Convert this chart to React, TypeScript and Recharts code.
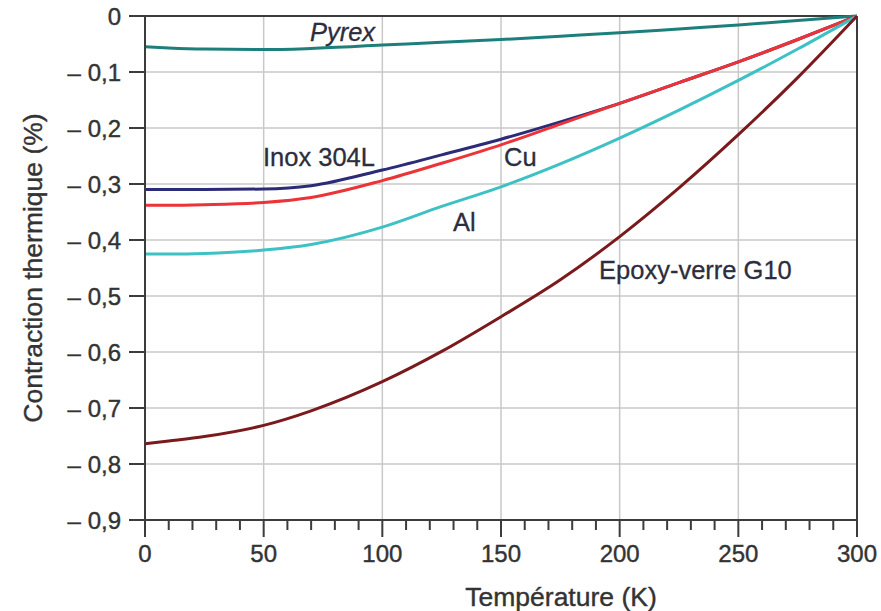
import { LineChart, Line, XAxis, YAxis, CartesianGrid, ReferenceLine, ReferenceDot } from 'recharts';

// Température (K)
const temps = [0, 10, 25, 50, 70, 100, 125, 150, 175, 200, 225, 250, 275, 300];

// Contraction thermique (%) relative to 300 K
const pyrex = [-0.055, -0.057, -0.059, -0.06, -0.058, -0.052, -0.047, -0.042, -0.036, -0.03, -0.023, -0.016, -0.008, 0];
const inox = [-0.31, -0.31, -0.31, -0.309, -0.303, -0.275, -0.248, -0.22, -0.189, -0.156, -0.119, -0.082, -0.042, 0];
const cu = [-0.338, -0.338, -0.337, -0.333, -0.324, -0.294, -0.263, -0.23, -0.193, -0.156, -0.119, -0.082, -0.042, 0];
const al = [-0.425, -0.425, -0.424, -0.418, -0.408, -0.377, -0.34, -0.305, -0.264, -0.218, -0.168, -0.115, -0.059, 0];
const epoxy = [-0.764, -0.759, -0.751, -0.731, -0.705, -0.653, -0.599, -0.537, -0.471, -0.394, -0.307, -0.212, -0.11, 0];

const xTicks = [0, 10, 20, 30, 40, 50, 60, 70, 80, 90, 100, 110, 120, 130, 140, 150, 160, 170, 180, 190, 200, 210, 220, 230, 240, 250, 260, 270, 280, 290, 300];
const xMajor = [0, 50, 100, 150, 200, 250, 300];
const yTicks = [0, -0.1, -0.2, -0.3, -0.4, -0.5, -0.6, -0.7, -0.8, -0.9];

// curve labels: [text, T, value]
const curveLabels: [string, number, number][] = [
  ['Pyrex', 69.5, -0.029],
  ['Inox 304L', 49.7, -0.252],
  ['Cu', 151.3, -0.252],
  ['Al', 129.8, -0.368],
  ['Epoxy-verre G10', 191.3, -0.454],
];

const data = temps.map((t, i) => ({
  t,
  pyrex: pyrex[i],
  inox: inox[i],
  cu: cu[i],
  al: al[i],
  epoxy: epoxy[i],
}));

const FONT = '"Liberation Sans", Arial, Helvetica, sans-serif';
const AXIS = '#3c3c3c';
const TEXT = '#333333';
const GRID = '#c8c8c8';

const fmtY = (v: number) => (v === 0 ? '0' : '– ' + Math.abs(v).toFixed(1).replace('.', ','));

// slightly heavier text strokes
const ink = { fill: TEXT, stroke: TEXT, strokeWidth: 0.4, fontFamily: FONT };

function XTick(props: any) {
  const { x, y, payload } = props;
  if (!xMajor.includes(payload.value)) return null;
  return (
    <g>
      <line x1={x} x2={x} y1={y} y2={y + 7} stroke={AXIS} strokeWidth={2} />
      <text x={x} y={y + 23} dy="0.355em" textAnchor="middle" fontSize={24} {...ink}>
        {payload.value}
      </text>
    </g>
  );
}

function YTick(props: any) {
  const { x, y, payload } = props;
  return (
    <text x={x} y={y} dy="0.355em" textAnchor="end" fontSize={24} {...ink}>
      {fmtY(payload.value)}
    </text>
  );
}

function CurveLabel(text: string) {
  return (props: any) => (
    <text
      x={props.cx}
      y={props.cy}
      dy="0.355em"
      fontSize={25.5}
      fontStyle={text === 'Pyrex' ? 'italic' : 'normal'}
      {...ink}
      fill="#2d2d3d"
      stroke="#2d2d3d"
      strokeWidth={0.3}
    >
      {text}
    </text>
  );
}

export default function App() {
  return (
    <div style={{ position: 'absolute', left: 0, top: 0, background: '#fff' }}>
      <LineChart width={881} height={611} data={data} margin={{ top: 16, right: 24, left: 0, bottom: 0 }}>
        <CartesianGrid vertical={false} stroke={GRID} strokeWidth={1.5} />
        {xMajor.slice(1, -1).map((v) => (
          <ReferenceLine key={v} x={v} stroke={GRID} strokeWidth={1.5} />
        ))}
        <XAxis
          dataKey="t"
          type="number"
          domain={[0, 300]}
          ticks={xTicks}
          interval={0}
          height={91}
          tickSize={10}
          tickMargin={0}
          stroke={AXIS}
          strokeWidth={2}
          tick={<XTick />}
          label={{
            content: ({ viewBox }: any) => (
              <text
                x={viewBox.x + 416}
                y={viewBox.y + 77}
                dy="0.355em"
                textAnchor="middle"
                fontSize={26.5}
                {...ink}
              >
                Température (K)
              </text>
            ),
          }}
        />
        <YAxis
          type="number"
          domain={[-0.9, 0]}
          ticks={yTicks}
          interval={0}
          width={145}
          tickSize={16}
          tickMargin={8}
          stroke={AXIS}
          strokeWidth={2}
          tick={<YTick />}
          label={{
            content: ({ viewBox }: any) => {
              const cx = viewBox.x + 33;
              const cy = viewBox.y + viewBox.height / 2;
              return (
                <text
                  x={cx}
                  y={cy}
                  dy="0.355em"
                  textAnchor="middle"
                  transform={`rotate(-90 ${cx} ${cy})`}
                  fontSize={26.5}
                  {...ink}
                >
                  Contraction thermique (%)
                </text>
              );
            },
          }}
        />
        <ReferenceLine y={0} stroke={AXIS} strokeWidth={2} />
        <ReferenceLine x={300} stroke={AXIS} strokeWidth={2} />
        <Line dataKey="pyrex" type="monotone" stroke="#1d7f7b" strokeWidth={3} dot={false} isAnimationActive={false} />
        <Line dataKey="inox" type="monotone" stroke="#2b2b78" strokeWidth={3} dot={false} isAnimationActive={false} />
        <Line dataKey="cu" type="monotone" stroke="#ec3338" strokeWidth={3} dot={false} isAnimationActive={false} />
        <Line dataKey="al" type="monotone" stroke="#3dc1c4" strokeWidth={3} dot={false} isAnimationActive={false} />
        <Line dataKey="epoxy" type="monotone" stroke="#7a1a1c" strokeWidth={3} dot={false} isAnimationActive={false} />
        {curveLabels.map(([text, t, v]) => (
          <ReferenceDot key={text} x={t} y={v} r={0} shape={CurveLabel(text)} />
        ))}
      </LineChart>
    </div>
  );
}
